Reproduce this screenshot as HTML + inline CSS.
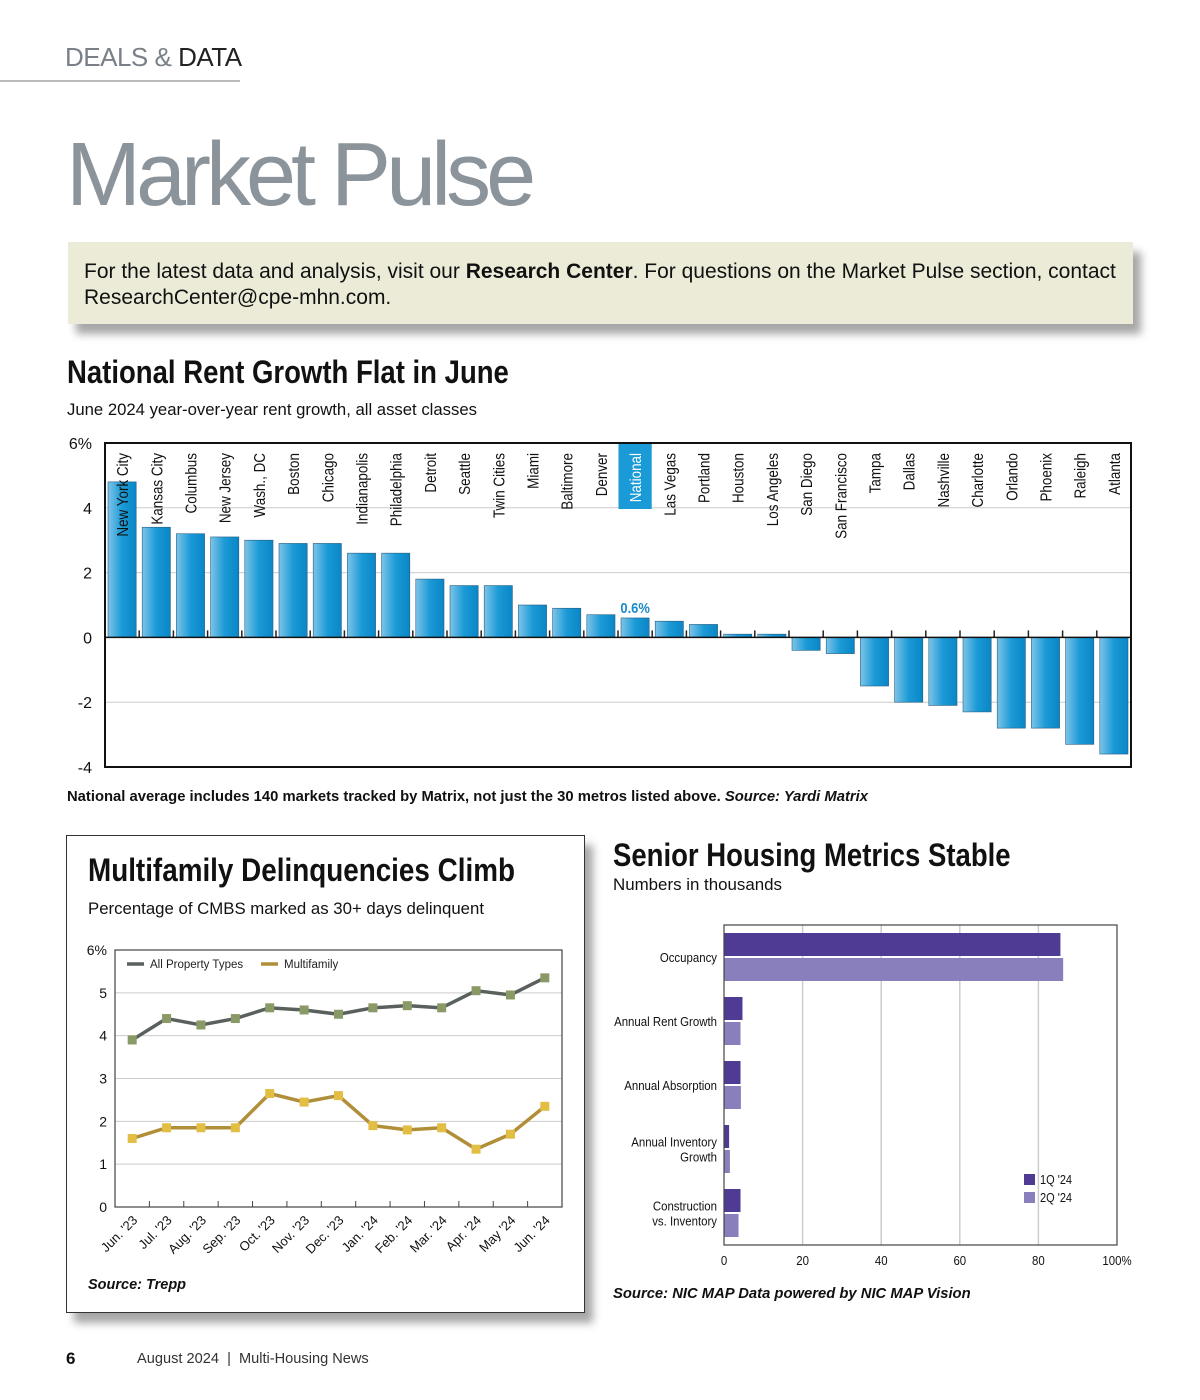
<!DOCTYPE html>
<html><head><meta charset="utf-8">
<style>
body{margin:0;width:1200px;height:1400px;background:#fff;position:relative;overflow:hidden;font-family:"Liberation Sans",sans-serif;color:#111}
.abs{position:absolute}
.narrow{font-family:"Liberation Sans",sans-serif;font-weight:bold;transform-origin:0 0;transform:scaleX(0.86);white-space:nowrap}
</style></head>
<body>
<div class="abs" style="left:65px;top:42px;font-size:26px;letter-spacing:-0.5px"><span style="color:#7a8088">DEALS &amp; </span><span style="color:#222">DATA</span></div>
<div class="abs" style="left:0;top:80px;width:240px;height:2px;background:#bbb"></div>
<div class="abs" style="left:66px;top:124px;font-size:90px;color:#8c949b;letter-spacing:-5px;white-space:nowrap">Market Pulse</div>
<div class="abs" style="left:68px;top:242px;width:1065px;height:82px;background:#ecebd8;box-shadow:8px 10px 8px rgba(0,0,0,0.35)"></div>
<div class="abs" style="left:84px;top:259px;width:1048px;font-size:21px;line-height:26px;color:#111">For the latest data and analysis, visit our <b>Research Center</b>. For questions on the Market Pulse section, contact ResearchCenter@cpe-mhn.com.</div>

<div class="abs narrow" style="left:67px;top:354px;font-size:32px">National Rent Growth Flat in June</div>
<div class="abs" style="left:67px;top:400px;font-size:16.7px">June 2024 year-over-year rent growth, all asset classes</div>
<svg class="abs" id="rent" style="left:0;top:430px" width="1200" height="350"></svg>
<div class="abs" style="left:67px;top:789px;font-size:14.8px;font-weight:bold;white-space:nowrap">National average includes 140 markets tracked by Matrix, not just the 30 metros listed above. <i>Source: Yardi Matrix</i></div>

<div class="abs" style="left:66px;top:835px;width:517px;height:476px;border:1.5px solid #333;box-shadow:8px 10px 8px rgba(0,0,0,0.35);background:#fff"></div>
<div class="abs narrow" style="left:88px;top:852px;font-size:32px;transform:scaleX(0.87)">Multifamily Delinquencies Climb</div>
<div class="abs" style="left:88px;top:899px;font-size:16.8px">Percentage of CMBS marked as 30+ days delinquent</div>
<svg class="abs" id="del" style="left:70px;top:935px" width="505" height="340"></svg>
<div class="abs" style="left:88px;top:1277px;font-size:14.5px;font-weight:bold;font-style:italic">Source: Trepp</div>

<div class="abs narrow" style="left:613px;top:837px;font-size:32px">Senior Housing Metrics Stable</div>
<div class="abs" style="left:613px;top:875px;font-size:16.9px">Numbers in thousands</div>
<svg class="abs" id="sen" style="left:600px;top:915px" width="560" height="360"></svg>
<div class="abs" style="left:613px;top:1286px;font-size:14.8px;font-weight:bold;font-style:italic;white-space:nowrap">Source: NIC MAP Data powered by NIC MAP Vision</div>

<div class="abs" style="left:66px;top:1349px;font-size:17px;font-weight:bold">6</div>
<div class="abs" style="left:137px;top:1351px;font-size:14.6px;color:#333;white-space:nowrap">August 2024 &nbsp;|&nbsp; Multi-Housing News</div>

<script>
// ---------- Rent growth data ----------
const rentCities = ["New York City","Kansas City","Columbus","New Jersey","Wash., DC","Boston","Chicago","Indianapolis","Philadelphia","Detroit","Seattle","Twin Cities","Miami","Baltimore","Denver","National","Las Vegas","Portland","Houston","Los Angeles","San Diego","San Francisco","Tampa","Dallas","Nashville","Charlotte","Orlando","Phoenix","Raleigh","Atlanta"];
const rentValues = [4.8,3.4,3.2,3.1,3.0,2.9,2.9,2.6,2.6,1.8,1.6,1.6,1.0,0.9,0.7,0.6,0.5,0.4,0.1,0.1,-0.4,-0.5,-1.5,-2.0,-2.1,-2.3,-2.8,-2.8,-3.3,-3.6];
const rentTicks = [6,4,2,0,-2,-4];
const rentTickLabels = ["6%","4","2","0","-2","-4"];

// ---------- Delinquency data ----------
const delMonths = ["Jun. '23","Jul. '23","Aug. '23","Sep. '23","Oct. '23","Nov. '23","Dec. '23","Jan. '24","Feb. '24","Mar. '24","Apr. '24","May '24","Jun. '24"];
const delAll = [3.9,4.4,4.25,4.4,4.65,4.6,4.5,4.65,4.7,4.65,5.05,4.95,5.35];
const delMulti = [1.6,1.85,1.85,1.85,2.65,2.45,2.6,1.9,1.8,1.85,1.35,1.7,2.35];
const delTicks = [0,1,2,3,4,5,6];
const delTickLabels = ["0","1","2","3","4","5","6%"];

// ---------- Senior housing data ----------
const senCats = [["Occupancy"],["Annual Rent Growth"],["Annual Absorption"],["Annual Inventory","Growth"],["Construction","vs. Inventory"]];
const sen1Q = [85.6,4.7,4.2,1.3,4.2];
const sen2Q = [86.3,4.2,4.3,1.5,3.7];
const senTicks = [0,20,40,60,80,100];
const senTickLabels = ["0","20","40","60","80","100%"];

const NS="http://www.w3.org/2000/svg";
const FN='Liberation Sans, sans-serif';
function mk(svg,tag,attrs,text){const e=document.createElementNS(NS,tag);for(const k in attrs)e.setAttribute(k,attrs[k]);if(text!==undefined)e.textContent=text;svg.appendChild(e);return e;}

// ---- Rent chart ----
(function(){
 const svg=document.getElementById('rent');
 const defs=mk(svg,'defs',{});
 const g=mk(defs,'linearGradient',{id:'bg',x1:0,x2:1,y1:0,y2:0});
 mk(g,'stop',{offset:'0','stop-color':'#7ec4e8'});mk(g,'stop',{offset:'0.5','stop-color':'#1a9ad6'});mk(g,'stop',{offset:'1','stop-color':'#0a86c6'});
 const L=105,R=1131,T=13,B=337;
 const y=v=>T+(6-v)*(B-T)/10;
 const cw=(R-L)/rentCities.length;
 const x=i=>L+i*cw;
 rentTicks.forEach((t,i)=>{
  if(t!==6&&t!==-4&&t!==0){const gl=mk(svg,'line',{x1:L,x2:R,y1:y(t),y2:y(t),stroke:'#ccc','stroke-width':1});
  }
  const tl=mk(svg,'text',{x:92,y:y(t)+6,'text-anchor':'end','font-size':16,fill:'#111'},rentTickLabels[i]);
  
 });
 rentValues.forEach((v,i)=>{
  const x0=x(i)+3,w=cw-6;
  const top=Math.min(y(v),y(0)),h=Math.abs(y(v)-y(0));
  const b=mk(svg,'rect',{x:x0,y:top,width:w,height:h,fill:'url(#bg)',stroke:'#2a5d80','stroke-width':0.6});
  
  
  if(i>0){const tk=mk(svg,'line',{x1:x(i),x2:x(i),y1:y(0)-7,y2:y(0),stroke:'#222','stroke-width':1.5});
   }
  const cx=x(i)+cw/2;
  const nat=rentCities[i]==='National';
  if(nat){const hl=mk(svg,'rect',{x:x(i)+0.5,y:T,width:cw-1,height:66,fill:'#1a9ad6'});
   
   const lb=mk(svg,'text',{transform:`translate(${cx},${y(v)-5}) scale(0.86,1)`,'text-anchor':'middle','font-size':15,'font-weight':'bold',fill:'#1a8ac6','font-family':FN},'0.6%');
   }
  const lab=mk(svg,'text',{transform:`translate(${cx+6},${T+10}) rotate(-90) scale(0.84,1)`,'text-anchor':'end','font-size':16,fill:nat?'#fff':'#111','font-family':FN},rentCities[i]);
  
 });
 const zl=mk(svg,'line',{x1:L,x2:R,y1:y(0),y2:y(0),stroke:'#111','stroke-width':1.5});
 
 const fr=mk(svg,'rect',{x:L,y:T,width:R-L,height:B-T,fill:'none',stroke:'#111','stroke-width':2});
 
})();

// ---- Delinquency chart ----
(function(){
 const svg=document.getElementById('del');
 const L=45,R=492,T=15,B=272;
 const y=v=>B-v*(B-T)/6;
 const cw=(R-L)/delMonths.length;
 const x=i=>L+cw*(i+0.5);
 delTicks.forEach((t,i)=>{
  if(t>0&&t<6){const gl=mk(svg,'line',{x1:L,x2:R,y1:y(t),y2:y(t),stroke:'#ccc','stroke-width':1});
   }
  const tl=mk(svg,'text',{x:37,y:y(t)+5,'text-anchor':'end','font-size':14,fill:'#111'},delTickLabels[i]);
  
 });
 const fr=mk(svg,'rect',{x:L,y:T,width:R-L,height:B-T,fill:'none',stroke:'#444','stroke-width':1.2});
 
 delMonths.forEach((m,i)=>{
  if(i>0){const tk=mk(svg,'line',{x1:L+cw*i,x2:L+cw*i,y1:B-6,y2:B,stroke:'#444','stroke-width':1});
   }
  const t=mk(svg,'text',{transform:`translate(${x(i)+6},${B+14}) rotate(-45)`,'text-anchor':'end','font-size':13,fill:'#111'},m);
  
 });
 function series(vals,line,mark,name){
  const p=mk(svg,'polyline',{points:vals.map((v,i)=>x(i)+','+y(v)).join(' '),fill:'none',stroke:line,'stroke-width':3.5,'stroke-linejoin':'round'});
  
  vals.forEach((v,i)=>{const r=mk(svg,'rect',{x:x(i)-4.5,y:y(v)-4.5,width:9,height:9,fill:mark});
   });
 }
 series(delAll,'#5a615c','#8a9a66','all-property-types');
 series(delMulti,'#b08f38','#e2be45','multifamily');
 const l1=mk(svg,'line',{x1:57,x2:74,y1:29,y2:29,stroke:'#5a615c','stroke-width':3.5});
 
 const t1=mk(svg,'text',{x:80,y:33,'font-size':11.5,fill:'#222'},'All Property Types');
 
 const l2=mk(svg,'line',{x1:191,x2:208,y1:29,y2:29,stroke:'#b08f38','stroke-width':3.5});
 
 const t2=mk(svg,'text',{x:214,y:33,'font-size':11.5,fill:'#222'},'Multifamily');
 
})();

// ---- Senior housing chart ----
(function(){
 const svg=document.getElementById('sen');
 const L=124,R=517,T=10,B=330;
 const x=v=>L+v*(R-L)/100;
 senTicks.forEach((t,i)=>{
  if(t>0&&t<100){const gl=mk(svg,'line',{x1:x(t),x2:x(t),y1:T,y2:B,stroke:'#ccc','stroke-width':1.5});
   }
  const tl=mk(svg,'text',{transform:`translate(${x(t)},${B+20}) scale(0.88,1)`,'text-anchor':'middle','font-size':13,fill:'#111','font-family':FN},senTickLabels[i]);
  
 });
 const gh=64;
 senCats.forEach((c,i)=>{
  const cy=T+32+i*gh;
  const b1=mk(svg,'rect',{x:L,y:cy-24,width:x(sen1Q[i])-L,height:23,fill:'#4f3b93'});
  
  const b2=mk(svg,'rect',{x:L,y:cy+1,width:x(sen2Q[i])-L,height:23,fill:'#8a7fbd'});
  
  c.forEach((ln,j)=>{
   const t=mk(svg,'text',{transform:`translate(${L-7},${cy+5+(j-(c.length-1)/2)*15}) scale(0.88,1)`,'text-anchor':'end','font-size':13,fill:'#111','font-family':FN},ln);
   
  });
 });
 const fr=mk(svg,'rect',{x:L,y:T,width:R-L,height:B-T,fill:'none',stroke:'#444','stroke-width':1.2});
 
 const s1=mk(svg,'rect',{x:424,y:259,width:11,height:11,fill:'#4f3b93'});
 
 const lt1=mk(svg,'text',{transform:'translate(440,269) scale(0.88,1)','font-size':12.5,fill:'#111','font-family':FN},"1Q '24");
 
 const s2=mk(svg,'rect',{x:424,y:277,width:11,height:11,fill:'#8a7fbd'});
 
 const lt2=mk(svg,'text',{transform:'translate(440,287) scale(0.88,1)','font-size':12.5,fill:'#111','font-family':FN},"2Q '24");
 
})();
</script>
</body></html>
